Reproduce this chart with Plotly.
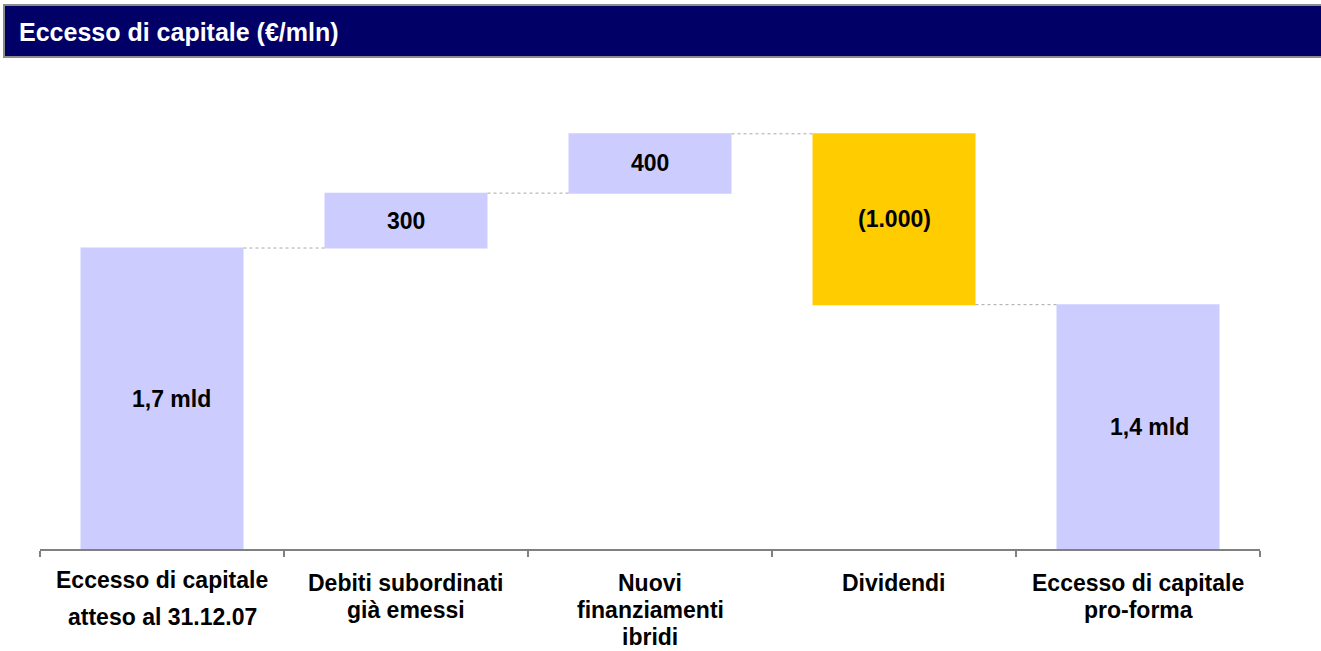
import plotly.graph_objects as go

categories = ["Eccesso di capitale\natteso al 31.12.07", "Debiti subordinati\ngià emessi",
              "Nuovi\nfinanziamenti\nibridi", "Dividendi", "Eccesso di capitale\npro-forma"]
measures = ["absolute", "relative", "relative", "relative", "total"]
values = [1700, 310, 335, -965, 0]
labels = ["1,7 mld", "300", "400", "(1.000)", "1,4 mld"]

FONT = "Liberation Sans, Arial, sans-serif"
LAV = "#CCCCFF"
GOLD = "#FFCC00"

W, H = 1321, 651
ML, MR, MT, MB = 40, 61, 80, 102
PW, PH = W - ML - MR, H - MT - MB

fig = go.Figure()
fig.add_trace(go.Waterfall(
    x=list(range(len(categories))),
    measure=measures,
    y=values,
    increasing=dict(marker=dict(color=LAV, line=dict(width=0))),
    decreasing=dict(marker=dict(color=GOLD, line=dict(width=0))),
    totals=dict(marker=dict(color=LAV, line=dict(width=0))),
    connector=dict(line=dict(color="#A8A8A8", width=1, dash="dot"), mode="between"),
    textinfo="none",
    hoverinfo="skip",
))

# centre of each bar (value units) for the value labels
centres = []
run = 0
for m, v in zip(measures, values):
    if m == "absolute":
        lo, hi = 0, v
        run = v
    elif m == "relative":
        lo, hi = run, run + v
        run += v
    else:
        lo, hi = 0, run
    centres.append((lo + hi) / 2)

label_xshift = [9, 0, 0, 0, 11]
for i, (lab, yc, xs) in enumerate(zip(labels, centres, label_xshift)):
    fig.add_annotation(x=i, y=yc, text="<b>%s</b>" % lab, showarrow=False, xshift=xs,
                       font=dict(family=FONT, size=23, color="black"))

# category labels, one annotation per line
for i, c in enumerate(categories):
    lines = c.split("\n")
    step = 37 if i == 0 else 27
    first = -31 if i == 0 else -34
    for j, ln in enumerate(lines):
        fig.add_annotation(x=i, y=0, xref="x", yref="y", text="<b>%s</b>" % ln,
                           showarrow=False, yanchor="middle", yshift=first - j * step,
                           font=dict(family=FONT, size=23, color="black"))

# title bar
fig.add_shape(type="rect", xref="paper", yref="paper",
              x0=(4 - ML) / PW, x1=(W + 5 - ML) / PW, y0=1 + (MT - 57) / PH, y1=1 + (MT - 5) / PH,
              fillcolor="#000066", line=dict(color="#8C8C8C", width=2))
fig.add_annotation(xref="paper", yref="paper", x=(17 - ML) / PW, y=1 + (MT - 32) / PH,
                   xanchor="left", yanchor="middle", showarrow=False,
                   text="<b>Eccesso di capitale (€/mln)</b>",
                   font=dict(family=FONT, size=25, color="white"))

fig.update_layout(
    width=W, height=H,
    margin=dict(l=ML, r=MR, t=MT, b=MB),
    plot_bgcolor="white", paper_bgcolor="white",
    showlegend=False,
    waterfallgap=0.332,
    xaxis=dict(range=[-0.5, 4.5], showticklabels=False, tickmode="array",
               tickvals=[-0.5, 0.5, 1.5, 2.5, 3.5, 4.5], ticks="outside", ticklen=6,
               tickcolor="#808080", tickwidth=1.2, showline=True, linecolor="#808080",
               linewidth=1.5, showgrid=False, zeroline=False, fixedrange=True),
    yaxis=dict(range=[0, 2649], visible=False, showgrid=False, zeroline=False, fixedrange=True),
)

fig.write_html("out.html", config={"displayModeBar": False, "staticPlot": True},
               post_script="document.body.style.margin='0';document.body.style.overflow='hidden';")
